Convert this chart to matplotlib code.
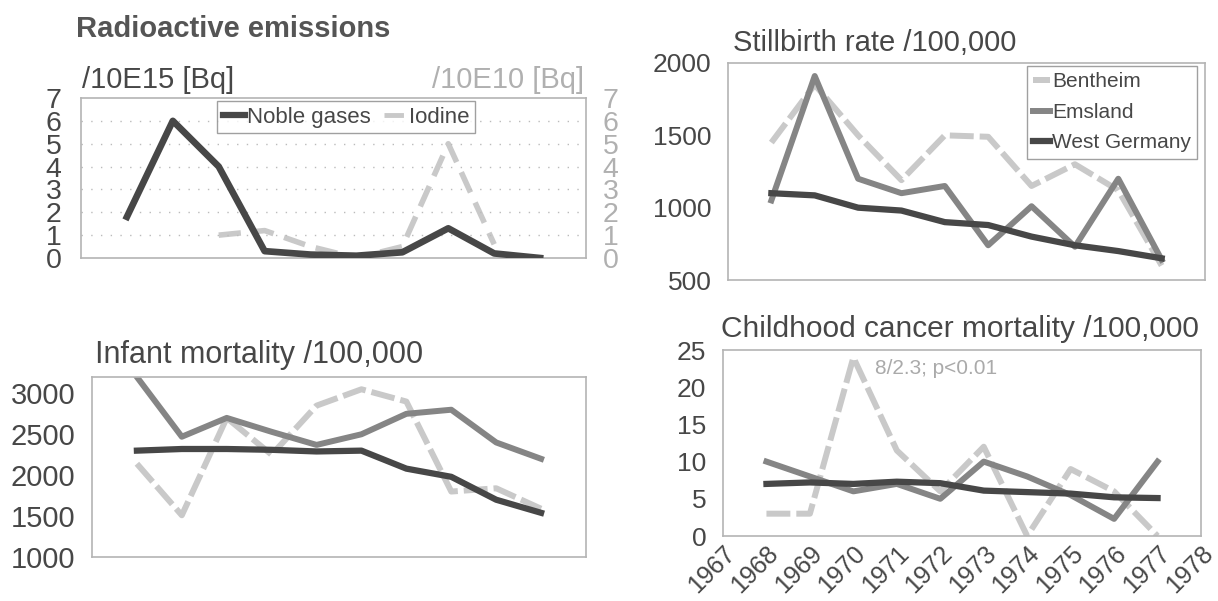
import numpy as np
import matplotlib
matplotlib.use('Agg')
import matplotlib.pyplot as plt
from matplotlib.lines import Line2D

plt.rcParams['font.family'] = ['Liberation Sans', 'DejaVu Sans']

# years on the x axis
years = [1968, 1969, 1970, 1971, 1972, 1973, 1974, 1975, 1976, 1977]
year_ticks = list(range(1967, 1979))

# radioactive emissions
noble_gases = [1.8, 6.0, 4.0, 0.3, 0.15, 0.1, 0.25, 1.3, 0.2, 0.0]
iodine = [np.nan, np.nan, 1.0, 1.2, 0.5, 0.0, 0.5, 5.0, 0.6, np.nan]

# stillbirth rate /100,000
still_bentheim = [1450, 1850, 1500, 1190, 1500, 1490, 1150, 1300, 1120, 600]
still_emsland = [1050, 1910, 1200, 1100, 1150, 740, 1010, 730, 1200, 640]
still_west = [1100, 1085, 1000, 980, 900, 880, 800, 740, 700, 650]

# infant mortality /100,000
inf_bentheim = [2140, 1510, 2700, 2250, 2850, 3050, 2900, 1800, 1840, 1590]
inf_emsland = [3200, 2470, 2700, 2530, 2370, 2500, 2750, 2800, 2400, 2200]
inf_west = [2300, 2320, 2320, 2310, 2290, 2300, 2080, 1980, 1700, 1540]

# childhood cancer mortality /100,000
can_bentheim = [3, 3, 24, 11.5, 6, 12, 0, 9, 6, 0]
can_emsland = [10, 8, 6, 7, 5, 10, 8, 5.5, 2.3, 10]
can_west = [7.0, 7.2, 7.0, 7.3, 7.1, 6.1, 5.9, 5.7, 5.2, 5.1]

DARK = '#474747'
MID = '#858585'
LIGHT = '#c9c9c9'
TXT = '#474747'
FRAME = '#b4b4b4'

W, H = 1218, 601
fig = plt.figure(figsize=(W / 100, H / 100), dpi=100)


def box(l, r, t, b):
    return fig.add_axes([l / W, (H - b) / H, (r - l) / W, (b - t) / H])


def style(ax, size):
    ax.set_xlim(1967, 1978)
    for s in ax.spines.values():
        s.set_color(FRAME)
        s.set_linewidth(1.2)
    ax.tick_params(length=0, labelsize=size, colors=TXT, pad=12)
    ax.set_xticks([])


def three_lines(ax, bent, ems, west):
    ax.plot(years, bent, color=LIGHT, lw=4.3, ls=(0, (4, 1)), label='Bentheim')
    ax.plot(years, ems, color=MID, lw=4.3, label='Emsland')
    ax.plot(years, west, color=DARK, lw=4.5, label='West Germany')


# radioactive emissions
ax1 = box(81, 586, 98, 258)
style(ax1, 20.5)
ax1.set_ylim(0, 7)
ax1.set_yticks(range(0, 8))
ax1.tick_params(axis='y', pad=14)
for v in range(1, 7):
    ax1.axhline(v, color='#bbbbbb', lw=1, ls=(0, (1, 6)), zorder=0)
ax1r = ax1.twinx()
ax1r.set_ylim(0, 7)
ax1r.set_yticks(range(0, 8))
ax1r.tick_params(length=0, labelsize=20.5, colors='#b0b0b0', pad=12)
for s in ax1r.spines.values():
    s.set_visible(False)
ax1r.plot(years, iodine, color=LIGHT, lw=4.0, ls=(0, (4, 2)))
ax1.plot(years, noble_gases, color=DARK, lw=4.8, zorder=5)
ax1.set_zorder(ax1r.get_zorder() + 1)
ax1.patch.set_visible(False)
handles = [Line2D([], [], color=DARK, lw=4.5), Line2D([], [], color=LIGHT, lw=3.5, ls=(0, (4, 2)))]
leg = ax1.legend(handles, ['Noble gases', 'Iodine'], loc='upper center', bbox_to_anchor=(0.525, 1.0),
                 ncol=2, fontsize=16, frameon=True, fancybox=False, handlelength=1.0,
                 handletextpad=0.1, columnspacing=0.6, borderpad=0.25, borderaxespad=0.15,
                 labelcolor=TXT)
leg.get_frame().set_edgecolor('#888888')
leg.get_frame().set_linewidth(1.0)
fig.text(76 / W, 1 - 29 / H, 'Radioactive emissions', fontsize=21, fontweight='bold', color='#555555', va='center')
fig.text(82 / W, 1 - 80 / H, '/10E15 [Bq]', fontsize=21, color=TXT, va='center')
fig.text(584 / W, 1 - 80 / H, '/10E10 [Bq]', fontsize=21, color='#b0b0b0', va='center', ha='right')

# stillbirth rate
ax2 = box(728, 1205, 63, 280)
style(ax2, 19)
ax2.set_ylim(500, 2000)
ax2.set_yticks([500, 1000, 1500, 2000])
three_lines(ax2, still_bentheim, still_emsland, still_west)
leg2 = ax2.legend(loc='upper right', bbox_to_anchor=(0.99, 1.0), fontsize=15, frameon=True,
                  fancybox=False, handlelength=0.8, handletextpad=0.1, borderpad=0.3,
                  borderaxespad=0.15, labelspacing=0.55, labelcolor=TXT)
leg2.get_frame().set_edgecolor('#888888')
leg2.get_frame().set_linewidth(1.0)
fig.text(733 / W, 1 - 43 / H, 'Stillbirth rate /100,000', fontsize=21, color=TXT, va='center')

# infant mortality
ax3 = box(92, 586, 377, 557)
style(ax3, 21)
ax3.set_ylim(1000, 3200)
ax3.set_yticks([1000, 1500, 2000, 2500, 3000])
three_lines(ax3, inf_bentheim, inf_emsland, inf_west)
fig.text(95 / W, 1 - 355 / H, 'Infant mortality /100,000', fontsize=22, color=TXT, va='center')

# childhood cancer mortality
ax4 = box(723, 1201, 350, 536)
style(ax4, 19)
ax4.set_ylim(0, 25)
ax4.set_yticks([0, 5, 10, 15, 20, 25])
three_lines(ax4, can_bentheim, can_emsland, can_west)
ax4.set_xticks(year_ticks)
ax4.set_xticklabels([str(y) for y in year_ticks], rotation=45, ha='right', rotation_mode='anchor',
                    fontsize=18)
ax4.tick_params(axis='x', pad=4)
ax4.text(1970.5, 22.5, '8/2.3; p<0.01', fontsize=15, color='#aaaaaa', va='center')
fig.text(721 / W, 1 - 329 / H, 'Childhood cancer mortality /100,000', fontsize=21.5, color=TXT, va='center')

fig.savefig('out.png', dpi=100)
